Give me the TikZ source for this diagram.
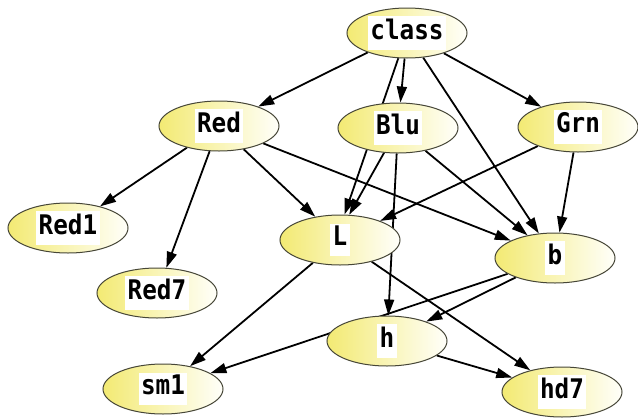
\documentclass[tikz,border=0pt]{standalone}
\usepackage{fontspec}
\newfontfamily\lblfont{DejaVu Sans Mono}[FakeStretch=0.9]
\usetikzlibrary{shapes.geometric,arrows.meta}
\definecolor{nyel}{RGB}{243,234,115}
\definecolor{nmid}{RGB}{253,250,212}
\definecolor{nwht}{RGB}{255,255,250}
\definecolor{nedge}{RGB}{70,70,55}
\pgfdeclarelayer{bg}
\pgfsetlayers{bg,main}
\tikzset{
  gnode/.style={ellipse, draw=nedge, line width=1pt, left color=nyel, middle color=nmid, right color=nwht,
    minimum width=120pt, minimum height=50pt, inner sep=0pt},
  arr/.style={line width=1.8pt, -{Triangle[length=16pt,width=10pt]}},
}
\newcommand{\lbl}[1]{{\setlength{\fboxsep}{2.5pt}\colorbox{white}{\lblfont\bfseries\fontsize{27}{27}\selectfont\strut #1}}}
\begin{document}
\begin{tikzpicture}[x=1pt,y=-1pt]
\useasboundingbox (0,0) rectangle (638,418);
\node[gnode] (class) at (407,33) {\lbl{class}};
\node[gnode] (Red) at (219,126) {\lbl{Red}};
\node[gnode] (Blu) at (398,128) {\lbl{Blu}};
\node[gnode] (Grn) at (578,127) {\lbl{Grn}};
\node[gnode] (Red1) at (68,228) {\lbl{Red1}};
\node[gnode] (L) at (340,240) {\lbl{L}};
\node[gnode] (b) at (555,258) {\lbl{b}};
\node[gnode] (Red7) at (157,293) {\lbl{Red7}};
\node[gnode] (h) at (387,341) {\lbl{h}};
\node[gnode] (sm1) at (163,389) {\lbl{sm1}};
\node[gnode] (hd7) at (562,392) {\lbl{hd7}};
\begin{pgfonlayer}{bg}
\draw[arr] (class) -- (Red);
\draw[arr] (class) -- (Blu);
\draw[arr] (class) -- (Grn);
\draw[arr] (class) -- (b);
\draw[arr] (class) -- (L.80);
\draw[arr] (Red) -- (Red1);
\draw[arr] (Red) -- (Red7);
\draw[arr] (Red) -- (L);
\draw[arr] (Red) -- (b);
\draw[arr] (Blu) -- (L.70);
\draw[arr] (Blu) -- (h);
\draw[arr] (Blu) -- (b);
\draw[arr] (Grn) -- (L);
\draw[arr] (Grn) -- (b);
\draw[arr] (L) -- (sm1);
\draw[arr] (L) -- (hd7);
\draw[arr] (b) -- (h);
\draw[arr] (b) -- (sm1);
\draw[arr] (h) -- (hd7);
\end{pgfonlayer}
\end{tikzpicture}
\end{document}
